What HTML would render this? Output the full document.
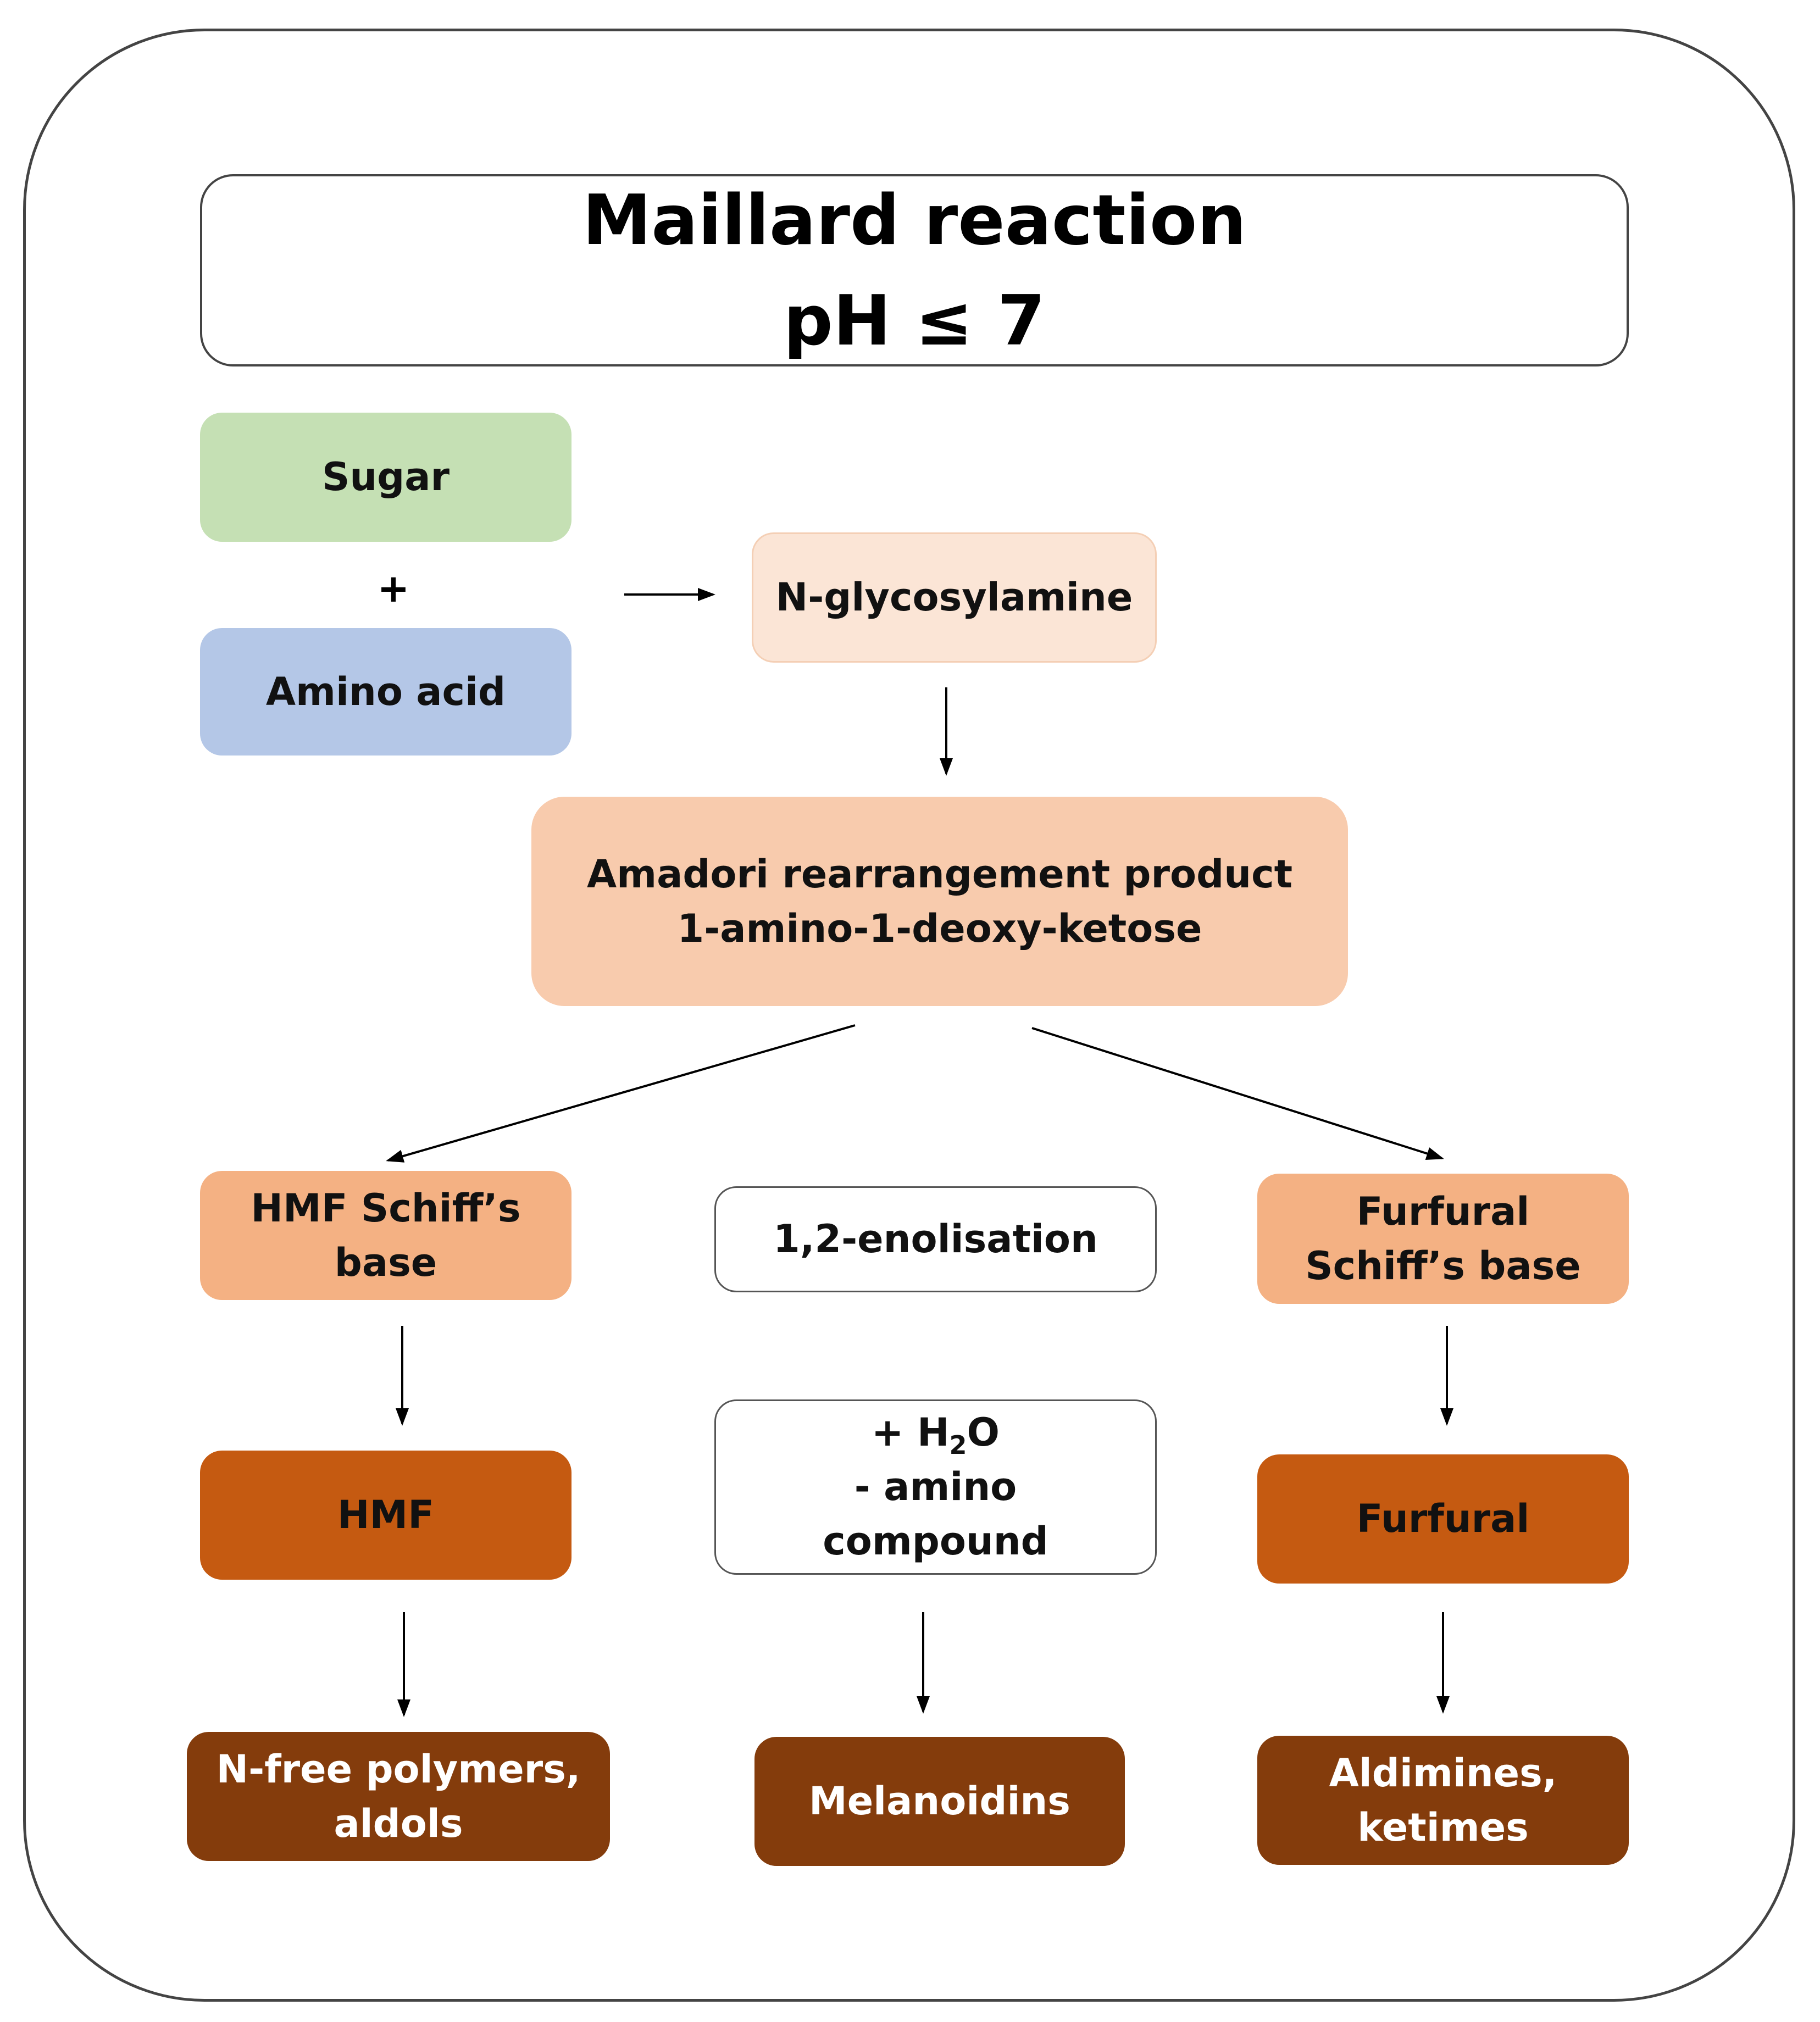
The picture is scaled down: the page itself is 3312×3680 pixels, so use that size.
<!DOCTYPE html>
<html><head><meta charset="utf-8"><style>
html,body{margin:0;padding:0;background:#fff;}
body{width:3312px;height:3680px;position:relative;overflow:hidden;font-family:"DejaVu Sans","Liberation Sans",sans-serif;font-weight:bold;}
.b{position:absolute;box-sizing:border-box;border-radius:40px;display:flex;align-items:center;justify-content:center;text-align:center;font-size:70px;line-height:99px;color:#111;}
.b span{display:block;}
</style></head><body>
<div style="position:absolute;left:42px;top:52px;width:3225px;height:3591px;border:5px solid #444;border-radius:330px;box-sizing:border-box;"></div>
<div class="b" style="left:364px;top:317px;width:2600px;height:350px;border:4px solid #444;border-radius:60px;font-size:126px;line-height:183px;color:#000;"><span>Maillard reaction<br>pH ≤ 7</span></div>

<div class="b" style="left:364px;top:751px;width:676px;height:235px;background:#C5E0B4;"><span>Sugar</span></div>
<div style="position:absolute;left:686px;top:1030px;width:60px;text-align:center;font-size:70px;">+</div>
<div class="b" style="left:364px;top:1143px;width:676px;height:232px;background:#B4C7E7;"><span>Amino acid</span></div>
<div class="b" style="left:1368px;top:969px;width:737px;height:237px;background:#FBE5D6;border:3px solid #F4CFB5;"><span>N-glycosylamine</span></div>
<div class="b" style="left:967px;top:1450px;width:1486px;height:381px;background:#F8CBAD;border-radius:60px;"><span>Amadori rearrangement product<br>1-amino-1-deoxy-ketose</span></div>

<div class="b" style="left:364px;top:2131px;width:676px;height:235px;background:#F4B183;"><span>HMF Schiff’s<br>base</span></div>
<div class="b" style="left:1300px;top:2159px;width:805px;height:193px;background:#fff;border:3px solid #555;"><span>1,2-enolisation</span></div>
<div class="b" style="left:2288px;top:2136px;width:676px;height:237px;background:#F4B183;"><span>Furfural<br>Schiff’s base</span></div>

<div class="b" style="left:364px;top:2640px;width:676px;height:235px;background:#C55A11;"><span>HMF</span></div>
<div class="b" style="left:1300px;top:2547px;width:805px;height:319px;background:#fff;border:3px solid #555;"><span>+ H<sub style="font-size:46px;line-height:0;">2</sub>O<br>- amino<br>compound</span></div>
<div class="b" style="left:2288px;top:2647px;width:676px;height:235px;background:#C55A11;"><span>Furfural</span></div>

<div class="b" style="left:340px;top:3152px;width:770px;height:235px;background:#843C0C;color:#fff;"><span>N-free polymers,<br>aldols</span></div>
<div class="b" style="left:1373px;top:3161px;width:674px;height:235px;background:#843C0C;color:#fff;"><span>Melanoidins</span></div>
<div class="b" style="left:2288px;top:3159px;width:676px;height:235px;background:#843C0C;color:#fff;"><span>Aldimines,<br>ketimes</span></div>

<svg width="3312" height="3680" style="position:absolute;left:0;top:0;">
<defs><marker id="a" markerWidth="8" markerHeight="8" refX="7" refY="4" orient="auto" markerUnits="strokeWidth"><path d="M0,1 L8,4 L0,7 z" fill="#000"/></marker></defs>
<g stroke="#000" stroke-width="4" marker-end="url(#a)">
<line x1="1136" y1="1082" x2="1298" y2="1082"/>
<line x1="1722" y1="1251" x2="1722" y2="1408"/>
<line x1="1556" y1="1866" x2="706" y2="2112"/>
<line x1="1878" y1="1871" x2="2624" y2="2108"/>
<line x1="732" y1="2413" x2="732" y2="2591"/>
<line x1="2633" y1="2413" x2="2633" y2="2591"/>
<line x1="735" y1="2934" x2="735" y2="3121"/>
<line x1="1680" y1="2934" x2="1680" y2="3115"/>
<line x1="2626" y1="2934" x2="2626" y2="3115"/>
</g></svg>
</body></html>
